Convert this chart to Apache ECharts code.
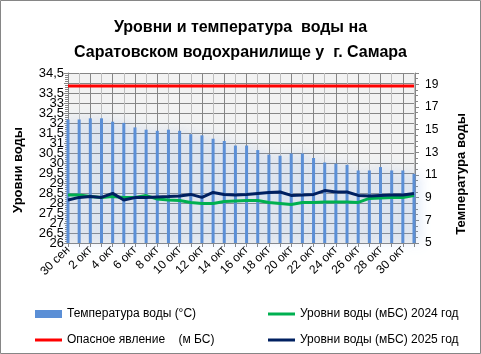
<!DOCTYPE html>
<html>
<head>
<meta charset="utf-8">
<script src="https://cdn.jsdelivr.net/npm/echarts@6/dist/echarts.min.js"></script>
<style>
  html, body { margin: 0; padding: 0; background: #fff; }
  #chart { width: 481px; height: 354px; }
</style>
</head>
<body>
<div id="chart"></div>
<script>
const days = [
    "30 сен", "1 окт", "2 окт", "3 окт", "4 окт", "5 окт", "6 окт", "7 окт",
    "8 окт", "9 окт", "10 окт", "11 окт", "12 окт", "13 окт", "14 окт", "15 окт",
    "16 окт", "17 окт", "18 окт", "19 окт", "20 окт", "21 окт", "22 окт", "23 окт",
    "24 окт", "25 окт", "26 окт", "27 окт", "28 окт", "29 окт", "30 окт", "31 окт"
];

// температура воды, °C (правая ось)
const temperatura = [
    15.9, 15.9, 16.0, 16.0, 15.7, 15.6, 15.2, 15.0,
    14.9, 15.0, 14.9, 14.6, 14.5, 14.2, 14.0, 13.6,
    13.6, 13.2, 12.8, 12.7, 12.9, 12.9, 12.5, 12.1,
    12.0, 11.9, 11.4, 11.4, 11.7, 11.4, 11.4, 11.1
];

// уровни воды, мБС (левая ось)
const nivel2024 = [
    28.40, 28.40, 28.32, 28.28, 28.32, 28.28, 28.28, 28.37,
    28.20, 28.15, 28.12, 28.02, 27.98, 27.98, 28.07, 28.10,
    28.12, 28.12, 28.02, 27.98, 27.93, 28.02, 28.03, 28.05,
    28.05, 28.05, 28.03, 28.23, 28.25, 28.27, 28.28, 28.37
];

const nivel2025 = [
    28.15, 28.28, 28.32, 28.28, 28.48, 28.15, 28.27, 28.27,
    28.30, 28.32, 28.35, 28.43, 28.28, 28.53, 28.43, 28.40,
    28.43, 28.48, 28.52, 28.55, 28.38, 28.40, 28.43, 28.62,
    28.55, 28.55, 28.38, 28.35, 28.38, 28.40, 28.40, 28.47
];

const peligro = [
    33.85, 33.85, 33.85, 33.85, 33.85, 33.85, 33.85, 33.85,
    33.85, 33.85, 33.85, 33.85, 33.85, 33.85, 33.85, 33.85,
    33.85, 33.85, 33.85, 33.85, 33.85, 33.85, 33.85, 33.85,
    33.85, 33.85, 33.85, 33.85, 33.85, 33.85, 33.85, 33.85
];

const fuente = "Liberation Sans";
const gris = "#868686";
// icono de linea 27x8 con la raya en el centro
const iconoLinea = "path://M0,0M27,8M0,2.5H27V5.5H0Z";
const coma = v => String(v).replace(".", ",");

const opciones = {
    animation: false,
    textStyle: { fontFamily: fuente, color: "#000" },
    title: {
        text: "Уровни и температура  воды на\nСаратовском водохранилище у  г. Самара",
        left: "center",
        top: 10,
        textStyle: { fontFamily: fuente, fontSize: 16, fontWeight: "bold", lineHeight: 25, color: "#000" }
    },
    graphic: [
        {
            type: "rect",
            shape: { x: 0.5, y: 0.5, width: 480, height: 353 },
            style: { fill: "none", stroke: gris, lineWidth: 1 },
            silent: true
        },
        {
            type: "text",
            x: 18, y: 170, rotation: Math.PI / 2,
            style: { text: "Уровни воды", font: "bold 13px " + fuente, fill: "#000", align: "center", verticalAlign: "middle" }
        },
        {
            type: "text",
            x: 461, y: 174, rotation: Math.PI / 2,
            style: { text: "Температура воды", font: "bold 13px " + fuente, fill: "#000", align: "center", verticalAlign: "middle" }
        }
    ],
    legend: [
        {
            orient: "vertical",
            left: 35, top: 308, padding: 0,
            itemWidth: 27, itemHeight: 8, itemGap: 14,
            textStyle: { fontFamily: fuente, fontSize: 12, color: "#000" },
            data: [
                { name: "Температура воды (°C)", icon: "rect" },
                { name: "Опасное явление    (м БС)", icon: iconoLinea }
            ]
        },
        {
            orient: "vertical",
            left: 268, top: 308, padding: 0,
            itemWidth: 27, itemHeight: 8, itemGap: 14,
            textStyle: { fontFamily: fuente, fontSize: 12, color: "#000" },
            data: [
                { name: "Уровни воды (мБС) 2024 год", icon: iconoLinea },
                { name: "Уровни воды (мБС) 2025 год", icon: iconoLinea }
            ]
        }
    ],
    grid: {
        left: 68, right: 67, top: 73, bottom: 111,
        show: true, backgroundColor: "#f2f2f2", borderWidth: 0
    },
    xAxis: {
        type: "category",
        data: days,
        boundaryGap: false,
        axisLine: { lineStyle: { color: gris } },
        axisTick: { show: true, interval: 0, length: 4, lineStyle: { color: gris } },
        axisLabel: { interval: 1, rotate: 45, fontSize: 12, color: "#000", margin: 5 },
        splitLine: { show: true, interval: 0, lineStyle: { color: ["#868686", "#bfbfbf"], width: 1 } }
    },
    yAxis: [
        {
            type: "value",
            min: 26, max: 34.5, interval: 0.5,
            axisLine: { show: true, lineStyle: { color: gris } },
            axisTick: { show: true, length: 4, lineStyle: { color: gris } },
            minorTick: { show: true, splitNumber: 5, length: 3, lineStyle: { color: gris } },
            axisLabel: {
                fontSize: 13, color: "#000", margin: 4,
                showMinLabel: false, showMaxLabel: true,
                formatter: coma
            },
            splitLine: { show: true, lineStyle: { color: gris, width: 1 } }
        },
        {
            type: "value",
            min: 5, max: 20, interval: 2,
            offset: 1,
            axisLine: { show: true, lineStyle: { color: gris } },
            axisTick: { show: true, length: 4, lineStyle: { color: gris } },
            minorTick: { show: true, splitNumber: 4, length: 3, lineStyle: { color: gris } },
            axisLabel: { fontSize: 12, color: "#000", margin: 10, showMinLabel: true, showMaxLabel: false },
            splitLine: { show: false }
        },
        {
            // solo la etiqueta inferior "26" de la escala izquierda
            type: "value",
            position: "left",
            min: 26, max: 34.5, interval: 0.5,
            axisLine: { show: false },
            axisTick: { show: false },
            splitLine: { show: false },
            axisLabel: {
                fontSize: 13, color: "#000", margin: 4,
                showMinLabel: true, showMaxLabel: false,
                formatter: v => (v === 26 ? coma(v) : "")
            }
        }
    ],
    series: [
        {
            name: "Температура воды (°C)",
            type: "bar",
            yAxisIndex: 1,
            data: temperatura,
            barWidth: 3,
            itemStyle: {
                color: "#5b8fd6",
                shadowColor: "rgba(140,175,230,0.75)",
                shadowBlur: 12,
                shadowOffsetX: 2
            },
            z: 2
        },
        {
            name: "Опасное явление    (м БС)",
            type: "line",
            data: peligro,
            symbol: "none",
            lineStyle: { color: "#ff0000", width: 3 },
            itemStyle: { color: "#ff0000" },
            z: 3
        },
        {
            name: "Уровни воды (мБС) 2024 год",
            type: "line",
            data: nivel2024,
            symbol: "none",
            lineStyle: { color: "#00b050", width: 3 },
            itemStyle: { color: "#00b050" },
            z: 4
        },
        {
            name: "Уровни воды (мБС) 2025 год",
            type: "line",
            data: nivel2025,
            symbol: "none",
            lineStyle: { color: "#002060", width: 3 },
            itemStyle: { color: "#002060" },
            z: 5
        }
    ]
};

const contenedor = document.getElementById("chart");
const miGrafico = echarts.init(contenedor, null, { renderer: "canvas" });
miGrafico.setOption(opciones);
</script>
</body>
</html>
